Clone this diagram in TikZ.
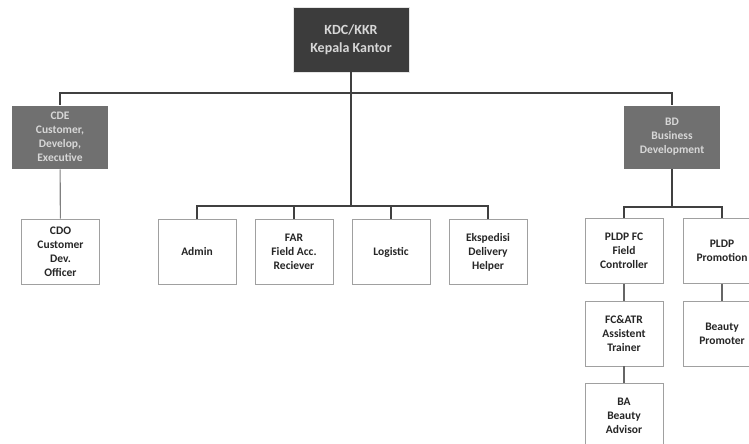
\documentclass[tikz,border=0pt]{standalone}
\usepackage{fontspec}
\setmainfont{Carlito}
\usepackage{tikz}
\definecolor{kopfgrau}{RGB}{60, 60, 60}
\definecolor{abtgrau}{RGB}{112, 112, 112}
\definecolor{randgrau}{RGB}{160, 160, 160}
\definecolor{textgrau}{RGB}{215, 215, 215}
\usetikzlibrary{positioning}

\begin{document}
\begin{tikzpicture}[x=1pt, y=-1pt,
					box/.style={draw=randgrau, fill=white, thick, minimum width=78, minimum height=65, align=center, inner sep=2pt,
						font=\fontsize{11.5}{14}\selectfont\bfseries, text=black!85},
					kopf/.style={box, draw=black!10, fill=kopfgrau, text=textgrau, minimum width=116, font=\fontsize{14}{17.5}\selectfont\bfseries},
					abt/.style={box, draw=white, fill=abtgrau, text=textgrau, minimum width=97, minimum height=64},
					linie/.style={draw=black!75, line width=1.1pt},
					font=\footnotesize]
					%Bildbereich
					\useasboundingbox (0,0) rectangle (749,444);
					\clip (0,0) rectangle (749,444);
					% Leitung
					\node[kopf] (kdc) at (351,39.5) {KDC/KKR\\Kepala Kantor};
					% Abteilungen
					\node[abt] (cde) at (60,137) {CDE\\Customer,\\Develop,\\Executive};
					\node[abt] (bd) at (672,137) {BD\\Business\\Development};
					% Stellen
					\node[box] (cdo) at (60.5,251.5) {CDO\\Customer\\Dev.\\Officer};
					\node[box] (admin) at (197,252) {Admin};
					\node[box] (far) at (294,252) {FAR\\Field Acc.\\Reciever};
					\node[box] (logistic) at (391,252) {Logistic};
					\node[box] (eksp) at (488,252) {Ekspedisi\\Delivery\\Helper};
					\node[box] (pldpfc) at (624,251) {PLDP FC\\Field\\Controller};
					\node[box] (pldpprom) at (722,251) {PLDP\\Promotion};
					\node[box] (fcatr) at (624,333.5) {FC\&ATR\\Assistent\\Trainer};
					\node[box] (promoter) at (722,333.5) {Beauty\\Promoter};
					\node[box] (ba) at (624,415.5) {BA\\Beauty\\Advisor};
					% Verbindungen
					\coordinate (oben) at (351,93);
					\coordinate (mitte) at (351,206);
					\coordinate (bdmitte) at (672,207);
					\draw[linie] (kdc.south) -- (mitte);
					\draw[linie] (cde.north) |- (oben) -| (bd.north);
					\draw[linie, draw=black!50] (cde) -- (cdo);
					\foreach \n in {admin,far,logistic,eksp} \draw[linie] (\n.north) |- (mitte);
					\draw[linie] (bd) -- (bdmitte);
					\draw[linie] (pldpfc.north) |- (bdmitte) -| (pldpprom.north);
					\draw[linie, draw=black!60] (pldpfc) -- (fcatr);
					\draw[linie, draw=black!60] (fcatr) -- (ba);
					\draw[linie, draw=black!60] (pldpprom) -- (promoter);
				\end{tikzpicture}
\end{document}
